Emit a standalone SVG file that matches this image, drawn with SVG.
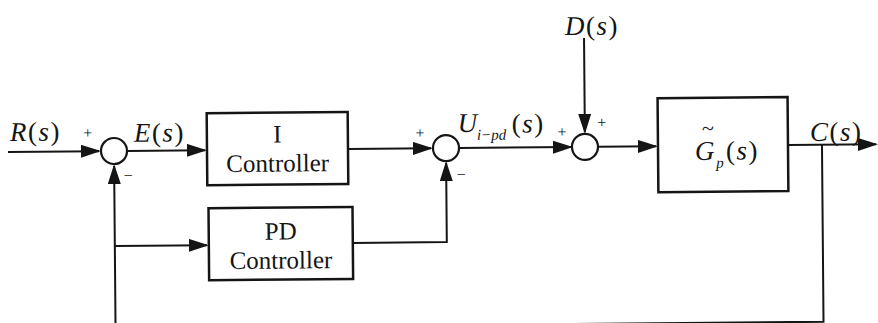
<svg xmlns="http://www.w3.org/2000/svg" width="878" height="323" viewBox="0 0 878 323">
  <defs>
    <marker id="arr" markerUnits="userSpaceOnUse" markerWidth="22" markerHeight="14" refX="18" refY="6.5" orient="auto">
      <path d="M0,0 L20,6.5 L0,13 Z" fill="#151515"/>
    </marker>
  </defs>
  <style>
    .ln{fill:none;stroke:#151515;stroke-width:2}
    .bx{fill:#fff;stroke:#151515;stroke-width:2.5}
    .sum{fill:#fff;stroke:#151515;stroke-width:2.2}
    .lbl{font-size:25px;text-anchor:middle}
    .m{font-size:27px;letter-spacing:1.5px}
    .v{font-style:italic}
    .sub{font-size:15px;font-style:italic}
    .sg{font-size:16px;text-anchor:middle}
  </style>
  <rect width="878" height="323" fill="#fff"/>
  <g transform="rotate(-0.5 114 151)" font-family="'Liberation Serif', 'DejaVu Serif', 'Noto Serif', serif" fill="#151515">
    <!-- connectors -->
    <g id="connectors">
      <path class="ln" d="M8,151 H99" marker-end="url(#arr)"/>
      <path class="ln" d="M127,151 H205" marker-end="url(#arr)"/>
      <path class="ln" d="M348,151 H431" marker-end="url(#arr)"/>
      <path class="ln" d="M459,151 H571" marker-end="url(#arr)"/>
      <path class="ln" d="M598,151 H656" marker-end="url(#arr)"/>
      <path class="ln" d="M788,151 H876" marker-end="url(#arr)"/>
      <path class="ln" d="M585,42 V136" marker-end="url(#arr)"/>
      <!-- PD branch -->
      <path class="ln" d="M114,246 H206" marker-end="url(#arr)"/>
      <path class="ln" d="M352,245 H446 V166" marker-end="url(#arr)"/>
      <!-- feedback -->
      <path class="ln" d="M822,151 V328 H114 V166" marker-end="url(#arr)"/>
    </g>

    <!-- summing junctions -->
    <g id="sum1">
      <circle class="sum" cx="114" cy="151" r="13"/>
      <text class="sg" x="88" y="138">+</text>
      <text class="sg" x="128" y="181">−</text>
    </g>
    <g id="sum2">
      <circle class="sum" cx="446" cy="151" r="13"/>
      <text class="sg" x="420" y="141">+</text>
      <text class="sg" x="461" y="183">−</text>
    </g>
    <g id="sum3">
      <circle class="sum" cx="585" cy="151" r="13"/>
      <text class="sg" x="562" y="141">+</text>
      <text class="sg" x="602" y="132">+</text>
    </g>

    <!-- blocks -->
    <g id="i-controller">
      <rect class="bx" x="207" y="114" width="141" height="72"/>
      <text class="lbl" x="277.5" y="144">I</text>
      <text class="lbl" x="277.5" y="173">Controller</text>
    </g>
    <g id="pd-controller">
      <rect class="bx" x="208" y="209" width="144" height="72"/>
      <text class="lbl" x="280" y="241">PD</text>
      <text class="lbl" x="280" y="270">Controller</text>
    </g>
    <g id="plant">
      <rect class="bx" x="658" y="103" width="130" height="94"/>
      <text class="m" x="695" y="165"><tspan class="v">G</tspan></text>
      <text x="708" y="141" font-size="22" text-anchor="middle">~</text>
      <text class="sub" x="716" y="173">p</text>
      <text class="m" x="726" y="165">(<tspan class="v">s</tspan>)</text>
    </g>

    <!-- signal labels -->
    <g id="labels">
      <text class="m" x="10" y="140"><tspan class="v">R</tspan>(<tspan class="v">s</tspan>)</text>
      <text class="m" x="134" y="142"><tspan class="v">E</tspan>(<tspan class="v">s</tspan>)</text>
      <text class="m" x="458" y="135"><tspan class="v">U</tspan></text>
      <text class="sub" x="477" y="143" font-size="14">i−pd</text>
      <text class="m" x="512" y="136">(<tspan class="v">s</tspan>)</text>
      <text class="m" x="566" y="39"><tspan class="v">D</tspan>(<tspan class="v">s</tspan>)</text>
      <text class="m" x="810" y="147" letter-spacing="0.5"><tspan class="v">C</tspan>(<tspan class="v">s</tspan>)</text>
    </g>
  </g>
</svg>
